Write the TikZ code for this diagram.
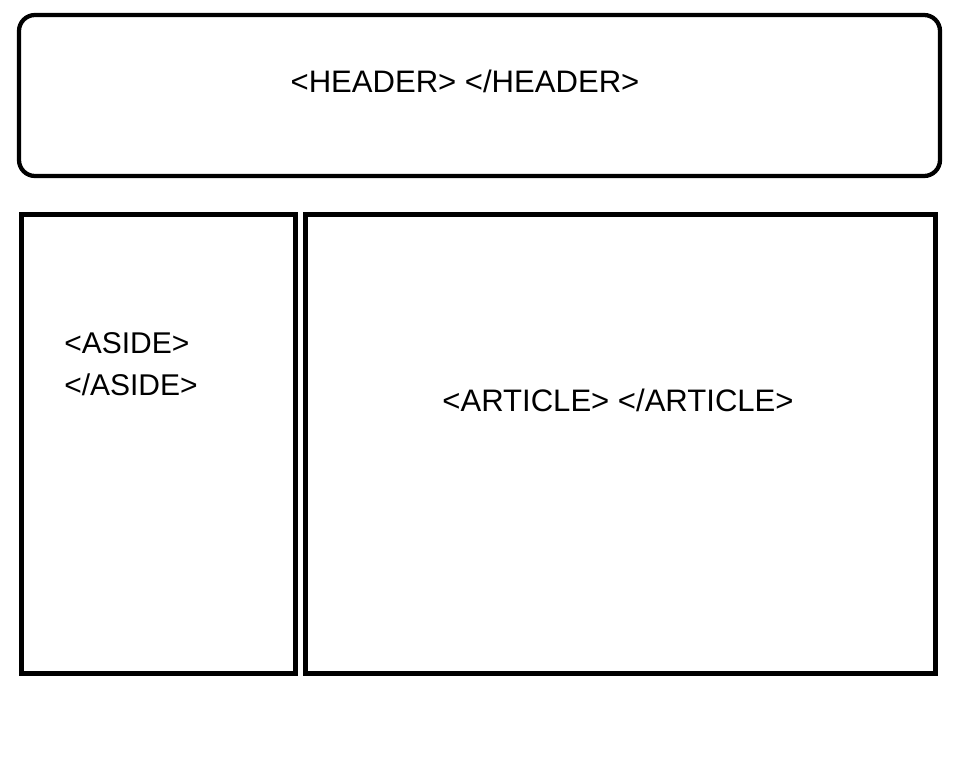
\documentclass[tikz,border=0pt]{standalone}
\usepackage{fontspec}
\setmainfont{Liberation Sans}
\begin{document}
\begin{tikzpicture}[x=0.75pt,y=-0.75pt,
  box/.style={draw=black,line width=3.75pt},
  lbl/.style={font=\fontsize{22.5pt}{27pt}\selectfont,inner sep=0pt},
  biglbl/.style={font=\fontsize{23.3pt}{28pt}\selectfont,inner sep=0pt}]
\useasboundingbox[fill=white] (0,0) rectangle (966,770);
\draw[draw=black,line width=3.2pt,rounded corners=12pt] (19,15) rectangle (940,176);
\node[biglbl] (header) at (465,81) {<HEADER> </HEADER>};
\draw[box] (21.5,214.5) rectangle (295,673);
\draw[box] (305,214.5) rectangle (935,673);
\node[lbl,anchor=west] (asideopen) at (64,343) {<ASIDE>};
\node[lbl,anchor=west] (asideclose) at (64,385) {</ASIDE>};
\node[biglbl] (article) at (618,400) {<ARTICLE> </ARTICLE>};
\end{tikzpicture}
\end{document}
